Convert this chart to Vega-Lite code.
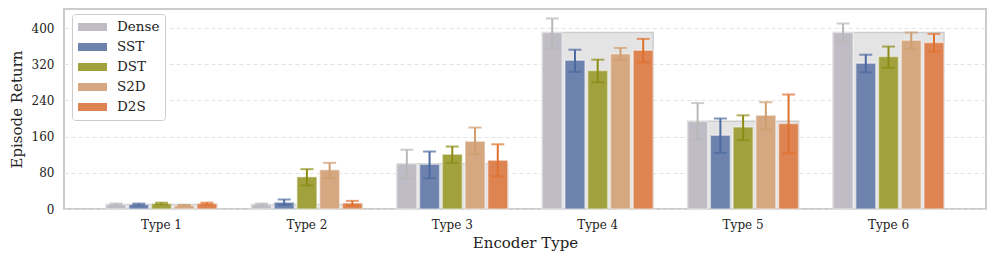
{
  "$schema": "https://vega.github.io/schema/vega-lite/v6.json",
  "width": 922,
  "height": 200,
  "autosize": {"type": "none"},
  "padding": {"left": 64, "top": 9, "right": 10, "bottom": 54},
  "config": {
    "font": "DejaVu Serif",
    "view": {"stroke": "#cccccc", "strokeWidth": 2},
    "axis": {"labelColor": "#222222", "titleColor": "#222222", "titleFontWeight": "normal", "domain": false, "ticks": false}
  },
  "data": {
    "values": [
      {"type": "Type 1", "method": "Dense", "mean": 10, "lo": 8, "hi": 12},
      {"type": "Type 1", "method": "SST", "mean": 10, "lo": 8, "hi": 12},
      {"type": "Type 1", "method": "DST", "mean": 12, "lo": 10, "hi": 14},
      {"type": "Type 1", "method": "S2D", "mean": 8, "lo": 7, "hi": 9},
      {"type": "Type 1", "method": "D2S", "mean": 12, "lo": 10, "hi": 14},
      {"type": "Type 2", "method": "Dense", "mean": 10, "lo": 8, "hi": 12},
      {"type": "Type 2", "method": "SST", "mean": 15, "lo": 9, "hi": 21},
      {"type": "Type 2", "method": "DST", "mean": 71, "lo": 52, "hi": 88},
      {"type": "Type 2", "method": "S2D", "mean": 87, "lo": 69, "hi": 102},
      {"type": "Type 2", "method": "D2S", "mean": 13, "lo": 8, "hi": 18},
      {"type": "Type 3", "method": "Dense", "mean": 100, "lo": 68, "hi": 131},
      {"type": "Type 3", "method": "SST", "mean": 99, "lo": 68, "hi": 127},
      {"type": "Type 3", "method": "DST", "mean": 121, "lo": 102, "hi": 138},
      {"type": "Type 3", "method": "S2D", "mean": 150, "lo": 121, "hi": 180},
      {"type": "Type 3", "method": "D2S", "mean": 108, "lo": 72, "hi": 143},
      {"type": "Type 4", "method": "Dense", "mean": 390, "lo": 355, "hi": 421},
      {"type": "Type 4", "method": "SST", "mean": 329, "lo": 303, "hi": 352},
      {"type": "Type 4", "method": "DST", "mean": 306, "lo": 280, "hi": 330},
      {"type": "Type 4", "method": "S2D", "mean": 343, "lo": 329, "hi": 356},
      {"type": "Type 4", "method": "D2S", "mean": 351, "lo": 324, "hi": 376},
      {"type": "Type 5", "method": "Dense", "mean": 194, "lo": 154, "hi": 234},
      {"type": "Type 5", "method": "SST", "mean": 163, "lo": 124, "hi": 200},
      {"type": "Type 5", "method": "DST", "mean": 181, "lo": 152, "hi": 207},
      {"type": "Type 5", "method": "S2D", "mean": 207, "lo": 176, "hi": 236},
      {"type": "Type 5", "method": "D2S", "mean": 189, "lo": 123, "hi": 253},
      {"type": "Type 6", "method": "Dense", "mean": 390, "lo": 370, "hi": 410},
      {"type": "Type 6", "method": "SST", "mean": 322, "lo": 302, "hi": 341},
      {"type": "Type 6", "method": "DST", "mean": 337, "lo": 312, "hi": 359},
      {"type": "Type 6", "method": "S2D", "mean": 373, "lo": 354, "hi": 390},
      {"type": "Type 6", "method": "D2S", "mean": 368, "lo": 348, "hi": 387}
    ]
  },
  "encoding": {
    "x": {
      "field": "type", "type": "nominal",
      "scale": {"paddingInner": 0.237, "paddingOuter": 0.289},
      "axis": {"title": "Encoder Type", "labelAngle": 0, "labelFontSize": 12, "titleFontSize": 15, "labelPadding": 10, "titlePadding": 5, "grid": false}
    }
  },
  "layer": [
    {
      "transform": [{"filter": "datum.method === 'Dense'"}],
      "mark": {"type": "bar", "fill": "#e4e4e4", "stroke": "#cdcdcd", "strokeWidth": 1.5},
      "encoding": {
        "y": {
          "field": "mean", "type": "quantitative",
          "scale": {"domain": [0, 442], "nice": false},
          "axis": {"title": "Episode Return", "values": [0, 80, 160, 240, 320, 400], "tickCount": 12, "labelOverlap": false, "labelFontSize": 12, "titleFontSize": 15, "labelPadding": 10, "titlePadding": 7, "grid": true, "gridColor": "#e3e3e3", "gridDash": [4, 3], "gridWidth": 1}
        }
      }
    },
    {
      "mark": {"type": "bar", "stroke": "white", "strokeOpacity": 0.45, "strokeWidth": 1.5},
      "encoding": {
        "xOffset": {"field": "method", "sort": ["Dense", "SST", "DST", "S2D", "D2S"], "scale": {"paddingInner": 0.12, "paddingOuter": 0}},
        "y": {"field": "mean", "type": "quantitative"},
        "color": {
          "field": "method", "type": "nominal",
          "scale": {"domain": ["Dense", "SST", "DST", "S2D", "D2S"], "range": ["#bfbcc5", "#6e82ae", "#a1a23e", "#d6a882", "#dd8452"]},
          "legend": {
            "title": null, "orient": "none", "legendX": 8, "legendY": 5,
            "symbolType": "M-1,-0.3H1V0.3H-1Z", "symbolSize": 900,
            "symbolStrokeColor": "#ffffff", "symbolStrokeWidth": 1,
            "labelFontSize": 13.5, "labelColor": "#222222", "labelOffset": 9,
            "padding": 5, "rowPadding": 4, "clipHeight": 16,
            "fillColor": "#ffffff", "strokeColor": "#cccccc", "cornerRadius": 3
          }
        }
      }
    },
    {
      "mark": {"type": "rule", "strokeWidth": 2},
      "encoding": {
        "xOffset": {"field": "method", "sort": ["Dense", "SST", "DST", "S2D", "D2S"]},
        "y": {"field": "lo", "type": "quantitative"},
        "y2": {"field": "hi"},
        "color": {"field": "method", "type": "nominal", "scale": {"domain": ["Dense", "SST", "DST", "S2D", "D2S"], "range": ["#b8b8b8", "#4d6aa0", "#8c8c15", "#cf9d6e", "#e0702e"]}, "legend": null}
      }
    },
    {
      "mark": {"type": "tick", "thickness": 2, "size": 13},
      "encoding": {
        "xOffset": {"field": "method", "sort": ["Dense", "SST", "DST", "S2D", "D2S"]},
        "y": {"field": "hi", "type": "quantitative"},
        "color": {"field": "method", "type": "nominal", "scale": {"domain": ["Dense", "SST", "DST", "S2D", "D2S"], "range": ["#b8b8b8", "#4d6aa0", "#8c8c15", "#cf9d6e", "#e0702e"]}, "legend": null}
      }
    },
    {
      "mark": {"type": "tick", "thickness": 2, "size": 13},
      "encoding": {
        "xOffset": {"field": "method", "sort": ["Dense", "SST", "DST", "S2D", "D2S"]},
        "y": {"field": "lo", "type": "quantitative"},
        "color": {"field": "method", "type": "nominal", "scale": {"domain": ["Dense", "SST", "DST", "S2D", "D2S"], "range": ["#b8b8b8", "#4d6aa0", "#8c8c15", "#cf9d6e", "#e0702e"]}, "legend": null}
      }
    }
  ],
  "resolve": {"scale": {"color": "independent"}}
}
